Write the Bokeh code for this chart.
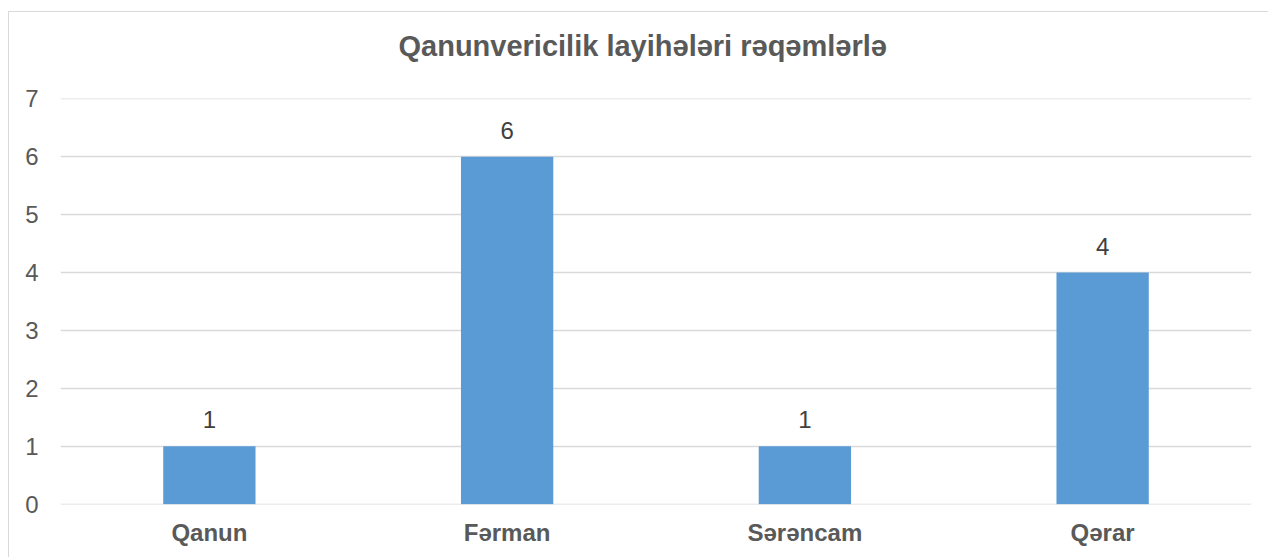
from bokeh.plotting import figure
from bokeh.models import ColumnDataSource, FixedTicker, LabelSet, FactorRange
from bokeh.core.properties import value
from bokeh.embed import file_html
from bokeh.resources import INLINE

categories = ["Qanun", "Fərman", "Sərəncam", "Qərar"]
values = [1, 6, 1, 4]
y_ticks = [0, 1, 2, 3, 4, 5, 6, 7]
title_text = "Qanunvericilik layihələri rəqəmlərlə"

FONT = "Liberation Sans"
TXT = "#595959"
GRID = "#d9d9d9"
BAR = "#5b9bd5"

src = ColumnDataSource(dict(cat=categories, val=values, lbl=[str(v) for v in values]))

W, H = 1260, 546
p = figure(
    x_range=FactorRange(*categories, range_padding=0),
    y_range=(-0.006, 7.006),
    width=W, height=H,
    output_backend="svg", toolbar_location=None,
    min_border_left=51, min_border_right=18, min_border_top=86, min_border_bottom=54,
    margin=(12, 0, 0, 9),
)
p.styles = {"box-shadow": f"-1px -1px 0px 0px {GRID}"}
p.outline_line_color = None
p.background_fill_color = "white"
p.border_fill_color = "white"

# trailing blank line lifts the title away from the plot area
p.title.text = title_text + "\n "
p.title.align = "left"
p.title.offset = 338
p.title.text_font = FONT
p.title.text_font_size = "29px"
p.title.text_font_style = "bold"
p.title.text_color = TXT
p.title.text_line_height = 1.0

p.vbar(x="cat", top="val", width=0.31, source=src, fill_color=BAR, line_color=None)

labels = LabelSet(x="cat", y="val", text="lbl", source=src, text_align="center",
                  text_baseline="bottom", y_offset=18, text_font=value(FONT),
                  text_font_size="24px", text_color="#404040")
p.add_layout(labels)

p.yaxis.ticker = FixedTicker(ticks=y_ticks)
p.yaxis.axis_line_color = None
p.yaxis.major_tick_line_color = None
p.yaxis.minor_tick_line_color = None
p.yaxis.major_tick_out = 0
p.yaxis.major_tick_in = 0
p.yaxis.major_label_text_font = FONT
p.yaxis.major_label_text_font_size = "24px"
p.yaxis.major_label_text_color = TXT
p.yaxis.major_label_standoff = 22

p.xaxis.axis_line_color = None
p.xaxis.major_tick_line_color = None
p.xaxis.major_tick_out = 0
p.xaxis.major_tick_in = 0
p.xaxis.major_label_text_font = FONT
p.xaxis.major_label_text_font_size = "24px"
p.xaxis.major_label_text_font_style = "bold"
p.xaxis.major_label_text_color = TXT
p.xaxis.major_label_standoff = 14

p.xgrid.grid_line_color = None
p.ygrid.grid_line_color = GRID
p.ygrid.grid_line_width = 1.5

open("out.html", "w").write(file_html(p, INLINE))
